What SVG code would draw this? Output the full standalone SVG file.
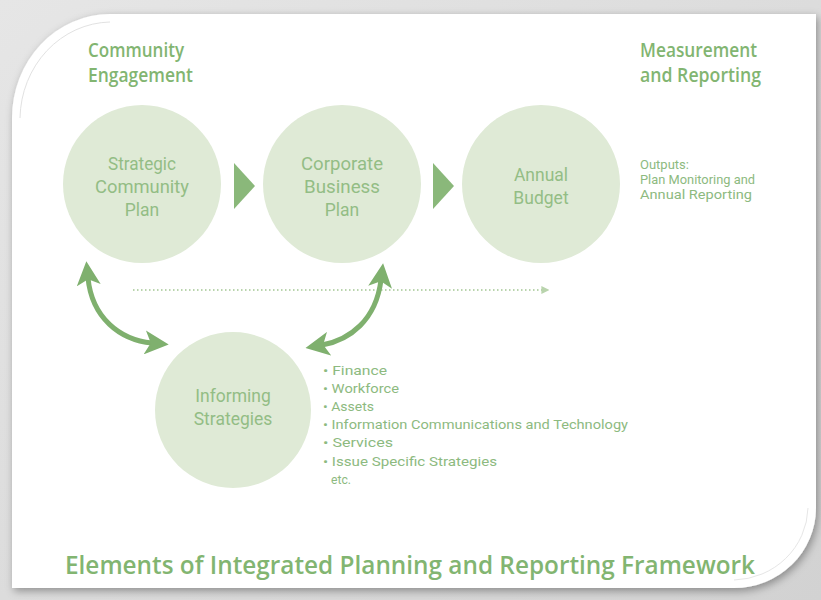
<svg xmlns="http://www.w3.org/2000/svg" width="821" height="600" viewBox="0 0 821 600">
<defs>
<linearGradient id="bg" x1="0" y1="0" x2="1" y2="1">
<stop offset="0" stop-color="#e6e6e6"/>
<stop offset="1" stop-color="#d2d2d2"/>
</linearGradient>
<filter id="sh" x="-5%" y="-5%" width="110%" height="110%">
<feDropShadow dx="2" dy="3" stdDeviation="4" flood-color="#000" flood-opacity="0.35"/>
</filter>
<marker id="dotArrow" viewBox="0 0 10 10" refX="2" refY="5" markerWidth="8" markerHeight="14" orient="auto" markerUnits="userSpaceOnUse">
<path d="M0 0 L10 5 L0 10 Z" fill="#b9d4ad"/>
</marker>
<marker id="curveHead" viewBox="0 0 10 10" refX="3" refY="5" markerWidth="24" markerHeight="24" orient="auto-start-reverse" markerUnits="userSpaceOnUse">
<path d="M0 0 L10 5 L0 10 L2.5 5 Z" fill="#7fb06e"/>
</marker>
</defs>
<style>
.node circle, .node ellipse { fill: #dfead6; }
.ntext { font-family: Roboto, "Liberation Sans", sans-serif; font-size: 17.5px; fill: #93bd85; text-anchor: middle; }
.head { font-family: "Open Sans", "Liberation Sans", sans-serif; font-weight: 600; font-size: 19px; fill: #82b571; }
.small { font-family: Roboto, "Liberation Sans", sans-serif; font-size: 13.5px; fill: #8dba7f; }
.outs { font-family: Roboto, "Liberation Sans", sans-serif; font-size: 13px; fill: #8dba7f; }
.tri { fill: #8ab87a; }
</style>
<rect width="821" height="600" fill="url(#bg)"/>
<path d="M12 118 A 98 104 0 0 1 110 14 L 816 14 L 816 508 A 82 80 0 0 1 734 588 L 12 588 Z" fill="#ffffff" filter="url(#sh)"/>
<path d="M20 118 A 92 98 0 0 1 110 22" fill="none" stroke="#e2e2e2" stroke-width="1"/>
<path d="M808 508 A 76 74 0 0 1 734 580" fill="none" stroke="#e6e6e6" stroke-width="1"/>

<text class="head" x="88" y="57" textLength="96" lengthAdjust="spacingAndGlyphs">Community</text>
<text class="head" x="88" y="82" textLength="105" lengthAdjust="spacingAndGlyphs">Engagement</text>
<text class="head" x="640" y="57" textLength="117" lengthAdjust="spacingAndGlyphs">Measurement</text>
<text class="head" x="640" y="82" textLength="121" lengthAdjust="spacingAndGlyphs">and Reporting</text>

<g id="connectors">
<path d="M133 290 L 543 290" stroke="#b9d4ad" stroke-width="2" stroke-dasharray="1.5 2.5" fill="none" marker-end="url(#dotArrow)"/>
<path d="M88 278 C 92 318, 120 340, 152 343" stroke="#7fb06e" stroke-width="5" fill="none" marker-start="url(#curveHead)" marker-end="url(#curveHead)"/>
<path d="M381 280 C 376 320, 350 340, 322 345" stroke="#7fb06e" stroke-width="5" fill="none" marker-start="url(#curveHead)" marker-end="url(#curveHead)"/>
<path class="tri" d="M234 163 L 255 186 L 234 209 Z"/>
<path class="tri" d="M433 163 L 454 186 L 433 209 Z"/>
</g>

<g id="strategic" class="node">
<circle cx="142" cy="184" r="79"/>
<text class="ntext" x="142" y="170" textLength="68" lengthAdjust="spacingAndGlyphs">Strategic</text>
<text class="ntext" x="142" y="193" textLength="94" lengthAdjust="spacingAndGlyphs">Community</text>
<text class="ntext" x="142" y="216">Plan</text>
</g>
<g id="corporate" class="node">
<circle cx="342" cy="184" r="79"/>
<text class="ntext" x="342" y="170" textLength="82" lengthAdjust="spacingAndGlyphs">Corporate</text>
<text class="ntext" x="342" y="193" textLength="76" lengthAdjust="spacingAndGlyphs">Business</text>
<text class="ntext" x="342" y="216">Plan</text>
</g>
<g id="budget" class="node">
<circle cx="541" cy="184" r="79"/>
<text class="ntext" x="541" y="181">Annual</text>
<text class="ntext" x="541" y="204">Budget</text>
</g>
<g id="outputs">
<text class="outs" x="640" y="169">Outputs:</text>
<text class="outs" x="640" y="184" textLength="115" lengthAdjust="spacingAndGlyphs">Plan Monitoring and</text>
<text class="outs" x="640" y="199" textLength="112" lengthAdjust="spacingAndGlyphs">Annual Reporting</text>
</g>
<g id="informing" class="node">
<ellipse cx="233" cy="410" rx="78" ry="78"/>
<text class="ntext" x="233" y="402">Informing</text>
<text class="ntext" x="233" y="425">Strategies</text>
</g>
<g id="list">
<text class="small" x="323" y="375" textLength="64" lengthAdjust="spacingAndGlyphs">• Finance</text>
<text class="small" x="323" y="393" textLength="76" lengthAdjust="spacingAndGlyphs">• Workforce</text>
<text class="small" x="323" y="411" textLength="51" lengthAdjust="spacingAndGlyphs">• Assets</text>
<text class="small" x="323" y="429" textLength="305" lengthAdjust="spacingAndGlyphs">• Information Communications and Technology</text>
<text class="small" x="323" y="447" textLength="70" lengthAdjust="spacingAndGlyphs">• Services</text>
<text class="small" x="323" y="466" textLength="174" lengthAdjust="spacingAndGlyphs">• Issue Specific Strategies</text>
<text class="small" x="331" y="484" textLength="20" lengthAdjust="spacingAndGlyphs">etc.</text>
</g>

<text x="65" y="574" font-family="'Open Sans', 'Liberation Sans', sans-serif" font-weight="600" font-size="26" fill="#82b571" textLength="690" lengthAdjust="spacingAndGlyphs">Elements of Integrated Planning and Reporting Framework</text>
</svg>
